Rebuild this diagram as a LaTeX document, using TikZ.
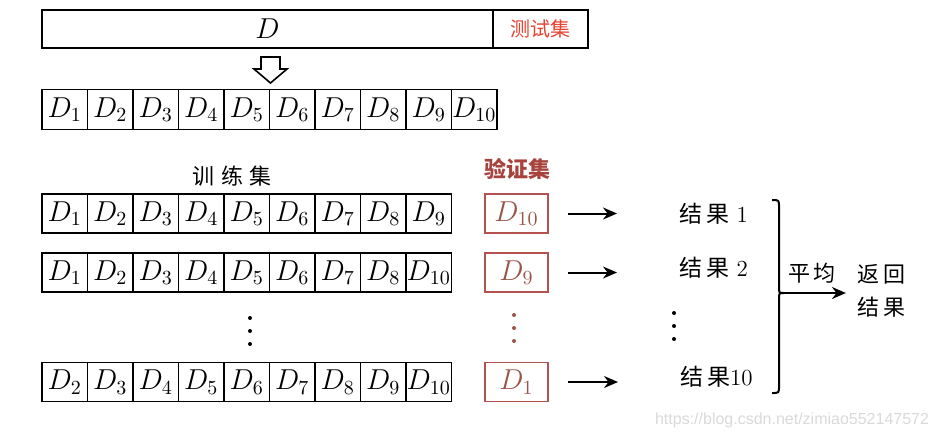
\documentclass[tikz,border=0pt]{standalone}
\usepackage{fontspec}
\usepackage{tikz}
\usetikzlibrary{arrows.meta,calc}
\newfontfamily\cjk{Noto Sans CJK SC}
\newfontfamily\wmfont{Liberation Sans}
\definecolor{testred}{HTML}{E8412F}
\definecolor{valred}{HTML}{A8423C}
\definecolor{valedge}{HTML}{B5524F}
\definecolor{valtext}{HTML}{9A5448}

\begin{document}
\begin{tikzpicture}[x=0.5pt,y=-0.5pt,
    font=\fontsize{14}{16}\selectfont,
    cell/.style={draw,line width=0.9pt,inner sep=0pt,minimum width=22.75pt,minimum height=19.5pt},
    valcell/.style={cell,draw=valedge,text=valtext,minimum width=31.5pt},
    cjklabel/.style={font=\cjk\fontsize{11}{16.5}\selectfont},
    arr/.style={-{Stealth[length=7pt,width=6pt]},line width=1pt}]
      \useasboundingbox (0,0) rectangle (935,441);
      % Whole data set D with the test set
      \node[cell,minimum width=225.5pt,minimum height=19pt] (D) at (267.5,29) {$D$};
      \node[cell,minimum width=47.5pt,minimum height=19pt,text=testred,
            font=\cjk\fontsize{10}{12}\selectfont] (test) at (540.5,29) {测试集};
      % Hollow arrow down to the ten folds
      \draw[line width=0.8pt] (261,57) -- (280,57) -- (280,69) -- (287,69)
            -- (270.5,83) -- (254,69) -- (261,69) -- cycle;
      % The ten folds
      \foreach \i in {1,...,10}
        \node[cell,minimum height=20pt] (f\i) at ({42+45.5*(\i-0.5)},109.5) {$D_{\i}$};
      % Labels of training and validation sets
      \node[cjklabel] (trainlab) at (232,176) {训\hspace{3.5pt}练\hspace{3.5pt}集};
      \node[cjklabel,font=\cjk\bfseries\fontsize{11}{13}\selectfont,text=valred] (vallab) at (517,169) {验证集};
      % Training rows
      \foreach \lab [count=\i] in {1,2,3,4,5,6,7,8,9}
        \node[cell] (a\i) at ({42+45.5*(\i-0.5)},213.5) {$D_{\lab}$};
      \foreach \lab [count=\i] in {1,2,3,4,5,6,7,8,10}
        \node[cell] (b\i) at ({42+45.5*(\i-0.5)},272.5) {$D_{\lab}$};
      \foreach \lab [count=\i] in {2,3,4,5,6,7,8,9,10}
        \node[cell] (c\i) at ({42+45.5*(\i-0.5)},382) {$D_{\lab}$};
      % Validation boxes
      \node[valcell] (v1) at (516.5,213.5) {$D_{10}$};
      \node[valcell] (v2) at (516.5,272.5) {$D_{9}$};
      \node[valcell] (v3) at (516.5,382) {$D_{1}$};
      % Vertical dots
      \foreach \y in {318,331,344} {
        \fill (250,\y) circle (1pt);
        \fill[valtext] (514,\y-3) circle (1pt);
        \fill (674,\y-5) circle (1pt);
      }
      % Results
      \node[anchor=west,font=\fontsize{11.5}{13}\selectfont] (r1) at (672,214) {{\cjk 结\hspace{2pt}果}\ 1};
      \node[anchor=west,font=\fontsize{11.5}{13}\selectfont] (r2) at (672,268) {{\cjk 结\hspace{2pt}果}\ 2};
      \node[anchor=west,font=\fontsize{11.5}{13}\selectfont] (r3) at (673,377) {{\cjk 结\hspace{2pt}果}10};
      % Arrows from validation boxes to results
      \foreach \i in {1,2,3}
        \draw[arr] ([xshift=9.5pt]v\i.east) -- ($(v\i.east -| r\i.west)+(-27.5pt,0)$);
      % Brace collecting the results
      \draw[line width=1pt] (772,200) .. controls (779,200) .. (779,207) -- (779,287)
            .. controls (779,293) .. (784,293);
      \draw[line width=1pt] (784,293) .. controls (779,293) .. (779,299) -- (779,386)
            .. controls (779,393) .. (772,393);
      \coordinate (avg) at (782,293);
      \node[cjklabel] (mean) at (812,273) {平\hspace{2pt}均};
      \node[cjklabel,align=left] (ret) at (881,291) {返\hspace{2pt}回\\结\hspace{2pt}果};
      \draw[arr,shorten >=2pt] (avg) -- (avg -| ret.west);
      % Watermark
      \node[font=\wmfont\fontsize{8}{10}\selectfont,text=gray!30,anchor=west] (wm) at (648,420)
            {https://blog.csdn.net/zimiao552147572};
    \end{tikzpicture}
\end{document}
